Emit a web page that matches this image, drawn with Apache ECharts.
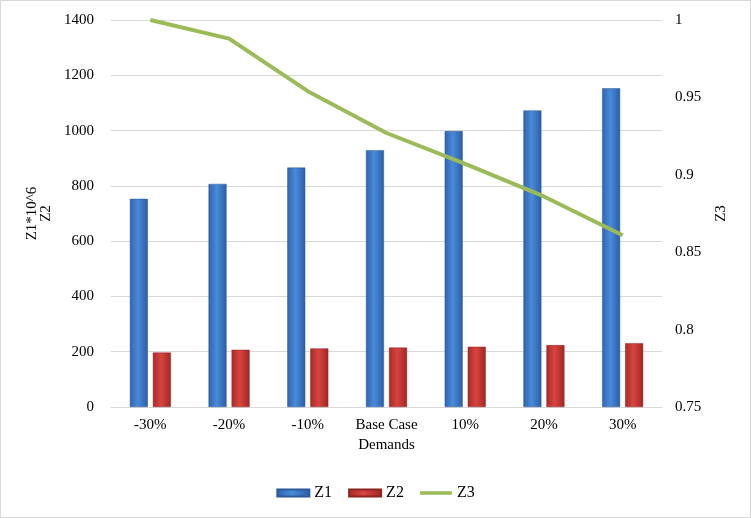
<!DOCTYPE html>
<html><head><meta charset="utf-8">
<script src="https://cdn.jsdelivr.net/npm/echarts@6/dist/echarts.min.js"></script>
<style>html,body{margin:0;padding:0;background:#fff}#c{width:751px;height:518px;box-sizing:border-box;border:1px solid #d9d9d9}</style>
</head><body><div id="c"></div>
<script>
const categories = ['-30%','-20%','-10%','Base Case','10%','20%','30%'];
const z1 = [753, 807, 866, 929, 998, 1073, 1153];
const z2 = [197, 207, 212, 215, 218, 224, 231];
const z3 = [1.0, 0.988, 0.954, 0.927, 0.907, 0.886, 0.861];
const leftTicks = {min:0, max:1400, interval:200};
const rightTicks = {min:0.75, max:1, interval:0.05};

const font = 'Liberation Serif';
const chart = echarts.init(document.getElementById('c'));
function grad(c1,c2,c3){return new echarts.graphic.LinearGradient(0,0,1,0,[{offset:0,color:c1},{offset:0.45,color:c2},{offset:1,color:c3}]);}
chart.setOption({
  animation:false,
  textStyle:{fontFamily:font,color:'#000'},
  grid:{left:110,right:88,top:19,bottom:110,containLabel:false},
  legend:{bottom:11,left:'center',itemWidth:32,itemHeight:7,itemGap:16,
    textStyle:{fontFamily:font,fontSize:16,color:'#000'},
    data:[{name:'Z1',icon:'rect'},{name:'Z2',icon:'rect'},{name:'Z3',icon:'path://M0,0L36,0L36,4L0,4Z'}]},
  xAxis:{type:'category',data:categories,
    name:'Demands',nameLocation:'middle',nameGap:30,nameTextStyle:{fontFamily:font,fontSize:15,color:'#000'},
    axisLine:{lineStyle:{color:'#d9d9d9'}},axisTick:{show:false},
    axisLabel:{fontFamily:font,fontSize:15,color:'#000',margin:11,interval:0}},
  yAxis:[{type:'value',min:leftTicks.min,max:leftTicks.max,interval:leftTicks.interval,
    name:'Z1*10^6\nZ2',nameLocation:'middle',nameGap:55,nameRotate:90,
    nameTextStyle:{fontFamily:font,fontSize:15,color:'#000',lineHeight:14},
    axisLine:{show:false},axisTick:{show:false},
    axisLabel:{fontFamily:font,fontSize:15,color:'#000',margin:17,formatter:v=>String(v)},
    splitLine:{lineStyle:{color:'#d9d9d9'}}},
   {type:'value',min:rightTicks.min,max:rightTicks.max,interval:rightTicks.interval,position:'right',
    name:'Z3',nameLocation:'middle',nameGap:52,nameRotate:90,
    nameTextStyle:{fontFamily:font,fontSize:15,color:'#000'},
    axisLine:{show:false},axisTick:{show:false},
    axisLabel:{fontFamily:font,fontSize:15,color:'#000',margin:13,formatter:v=>String(+v.toFixed(2))},
    splitLine:{show:false}}],
  series:[
    {name:'Z1',type:'bar',data:z1,barWidth:18,barGap:'28%',
     itemStyle:{color:grad('#2e64b0','#4a8ad8','#2a5ea8'),borderColor:'#2b5a98',borderWidth:0.5}},
    {name:'Z2',type:'bar',data:z2,barWidth:18,
     itemStyle:{color:grad('#a82b28','#d8443f','#a02724'),borderColor:'#8c2421',borderWidth:0.5}},
    {name:'Z3',type:'line',yAxisIndex:1,data:z3,symbol:'none',
     lineStyle:{color:'#9bbb59',width:4},itemStyle:{color:'#9bbb59'}}
  ]
});
</script></body></html>
